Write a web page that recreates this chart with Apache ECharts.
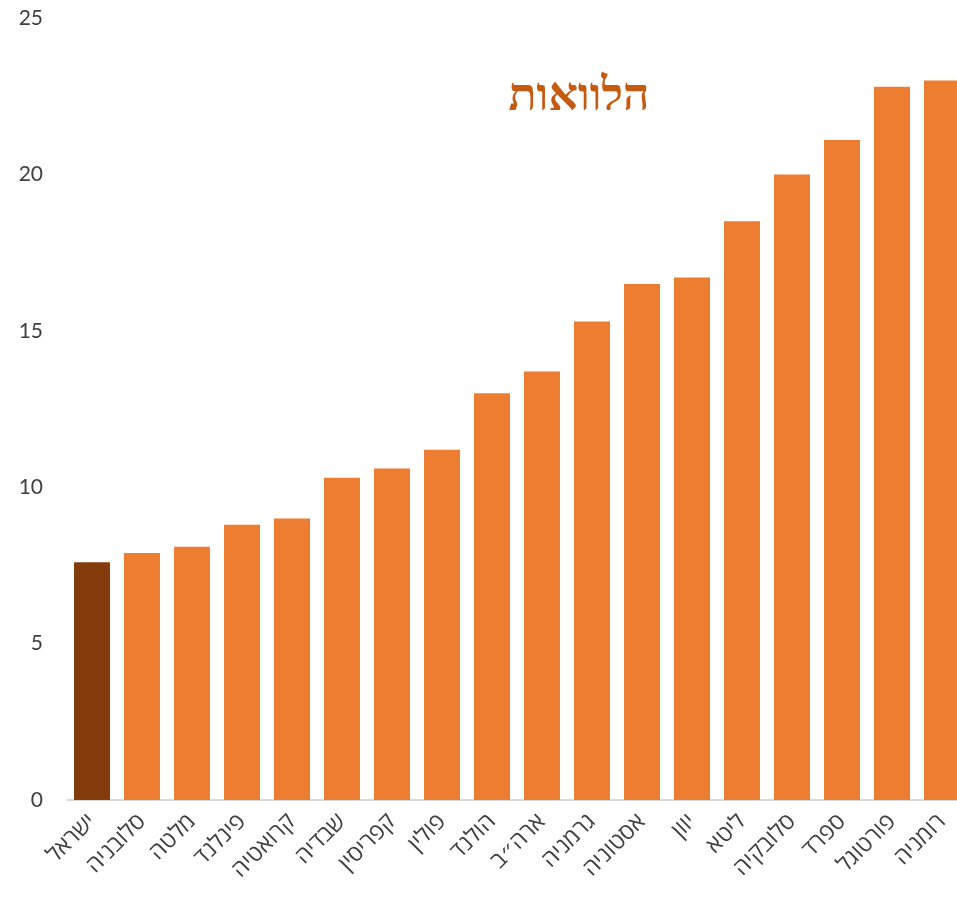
<!DOCTYPE html>
<html lang="he">
<head>
<meta charset="utf-8">
<title>הלוואות</title>
<script src="https://cdn.jsdelivr.net/npm/echarts@6/dist/echarts.min.js"></script>
<style>
  html, body { margin: 0; padding: 0; background: #ffffff; overflow: hidden; }
  /* the last bar runs a little past the right edge of the window */
  #chart { width: 967px; height: 898px; }
</style>
</head>
<body>
<div id="chart"></div>
<script>
// Countries, sorted by value
const countries = [
  'ישראל', 'סלובניה', 'מלטה', 'פינלנד', 'קרואטיה', 'שבדיה', 'קפריסין', 'פולין', 'הולנד',
  'ארה״ב', 'גרמניה', 'אסטוניה', 'יוון', 'ליטא', 'סלובקיה', 'ספרד', 'פורטוגל', 'רומניה'
];
const loans = [
  7.6, 7.9, 8.1, 8.8, 9.0, 10.3, 10.6, 11.2, 13.0,
  13.7, 15.3, 16.5, 16.7, 18.5, 20.0, 21.1, 22.8, 23.0
];
const yTicks = [0, 5, 10, 15, 20, 25];
const highlighted = 'ישראל';
const chartTitle = 'הלוואות';

const chart = echarts.init(document.getElementById('chart'));

const barData = loans.map((v, i) => ({
  value: v,
  itemStyle: { color: countries[i] === highlighted ? '#843C0C' : '#ED7D31' }
}));

chart.setOption({
  animation: false,
  title: {
    text: chartTitle,
    left: 574,
    top: 70,
    textAlign: 'center',
    textStyle: {
      fontFamily: '"Liberation Serif", "DejaVu Serif", serif',
      fontWeight: 'bold',
      fontSize: 46,
      color: '#C55A11'
    }
  },
  grid: { left: 67, top: 18, right: 0, bottom: 98, containLabel: false },
  xAxis: {
    type: 'category',
    data: countries,
    axisLine: { show: true, lineStyle: { color: '#D9D9D9', width: 2 } },
    axisTick: { show: false },
    axisLabel: {
      rotate: 45,
      interval: 0,
      margin: 18,
      fontSize: 23,
      color: '#404040',
      fontFamily: '"Open Sans", "DejaVu Sans", sans-serif'
    }
  },
  yAxis: {
    type: 'value',
    min: yTicks[0],
    max: yTicks[yTicks.length - 1],
    interval: yTicks[1] - yTicks[0],
    axisLine: { show: false },
    axisTick: { show: false },
    splitLine: { show: false },
    axisLabel: {
      margin: 24,
      fontSize: 21,
      color: '#404040',
      fontFamily: '"Lato", "Open Sans", sans-serif'
    }
  },
  series: [{
    type: 'bar',
    data: barData,
    barCategoryGap: '28%'
  }]
});
</script>
</body>
</html>
